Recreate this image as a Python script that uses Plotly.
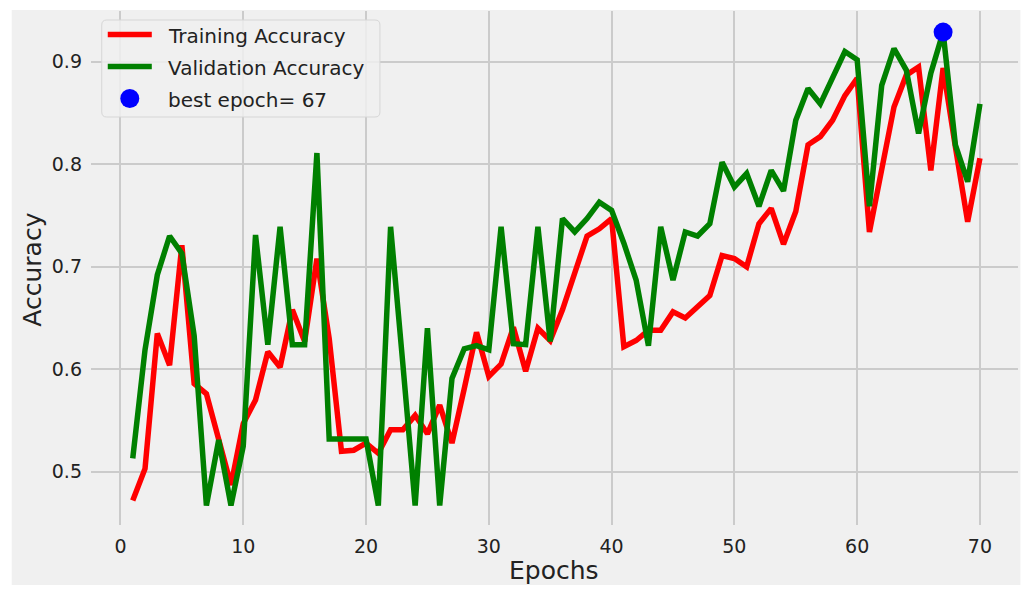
import plotly.graph_objects as go

# Per-epoch accuracy history
epochs = list(range(1, 71))
train_acc = [
    0.472, 0.503, 0.635, 0.604, 0.721, 0.586, 0.576, 0.533, 0.487, 0.547,
    0.570, 0.617, 0.602, 0.658, 0.627, 0.708, 0.630, 0.520, 0.521, 0.528,
    0.518, 0.541, 0.541, 0.555, 0.537, 0.565, 0.528, 0.581, 0.636, 0.593,
    0.605, 0.641, 0.598, 0.640, 0.628, 0.658, 0.693, 0.730, 0.737, 0.747,
    0.622, 0.628, 0.638, 0.638, 0.656, 0.650, 0.661, 0.672, 0.711, 0.708,
    0.700, 0.742, 0.757, 0.722, 0.754, 0.819, 0.827, 0.843, 0.867, 0.884,
    0.734, 0.798, 0.856, 0.887, 0.895, 0.794, 0.894, 0.817, 0.744, 0.806,
]
val_acc = [
    0.513, 0.619, 0.692, 0.730, 0.713, 0.633, 0.467, 0.531, 0.467, 0.525,
    0.731, 0.624, 0.739, 0.624, 0.624, 0.811, 0.532, 0.532, 0.532, 0.532,
    0.467, 0.739, 0.605, 0.467, 0.640, 0.467, 0.591, 0.620, 0.623, 0.619,
    0.739, 0.625, 0.624, 0.739, 0.627, 0.747, 0.734, 0.747, 0.763, 0.755,
    0.723, 0.687, 0.623, 0.739, 0.687, 0.734, 0.730, 0.742, 0.802, 0.778,
    0.791, 0.759, 0.794, 0.774, 0.843, 0.874, 0.859, 0.885, 0.910, 0.902,
    0.759, 0.877, 0.913, 0.892, 0.830, 0.889, 0.929, 0.819, 0.783, 0.859,
]
x_ticks = [0, 10, 20, 30, 40, 50, 60, 70]
y_ticks = [0.5, 0.6, 0.7, 0.8, 0.9]

best_idx = max(range(len(val_acc)), key=lambda i: val_acc[i])
best_epoch = epochs[best_idx]
best_val = val_acc[best_idx]

W, H = 1034, 590
ML, MR, MT, MB = 91.25, 16.4, 11, 65
PW, PH = W - ML - MR, H - MT - MB

BG = "#f0f0f0"
GRID = "#cbcbcb"
TXT = "#222222"
FONT = "DejaVu Sans"


def px(xp):
    return (xp - ML) / PW


def py(yp):
    return (H - MB - yp) / PH


fig = go.Figure()
fig.add_trace(go.Scatter(x=epochs, y=train_acc, mode="lines",
                         line=dict(color="#ff0000", width=5.5),
                         name="Training Accuracy", showlegend=False))
fig.add_trace(go.Scatter(x=epochs, y=val_acc, mode="lines",
                         line=dict(color="#008000", width=5.5),
                         name="Validation Accuracy", showlegend=False))
fig.add_trace(go.Scatter(x=[best_epoch], y=[best_val], mode="markers",
                         marker=dict(color="#0000ff", size=19, line=dict(width=0)),
                         name=f"best epoch= {best_epoch}", showlegend=False,
                         cliponaxis=False))

shapes = []
# figure face
shapes.append(dict(type="rect", xref="paper", yref="paper", layer="below",
                   x0=px(12), x1=px(1020), y0=py(585), y1=py(10),
                   fillcolor=BG, line=dict(width=0)))

# legend frame with rounded corners
lx0, lx1, ly0, ly1, r = 102, 380, 20, 117, 5
rx, ry = r / PW, r / PH
X0, X1, Y0, Y1 = px(lx0), px(lx1), py(ly1), py(ly0)
path = (f"M {X0 + rx},{Y0} L {X1 - rx},{Y0} Q {X1},{Y0} {X1},{Y0 + ry} "
        f"L {X1},{Y1 - ry} Q {X1},{Y1} {X1 - rx},{Y1} "
        f"L {X0 + rx},{Y1} Q {X0},{Y1} {X0},{Y1 - ry} "
        f"L {X0},{Y0 + ry} Q {X0},{Y0} {X0 + rx},{Y0} Z")
shapes.append(dict(type="path", path=path, xref="paper", yref="paper",
                   fillcolor="rgba(240,240,240,0.85)",
                   line=dict(color="#d6d6d6", width=1)))

legend_rows = [
    ("line", "#ff0000", "Training Accuracy", 34.5),
    ("line", "#008000", "Validation Accuracy", 66.5),
    ("dot", "#0000ff", f"best epoch= {best_epoch}", 98.5),
]
annotations = []
for kind, color, label, yc in legend_rows:
    if kind == "line":
        shapes.append(dict(type="line", xref="paper", yref="paper",
                           x0=px(108), x1=px(152), y0=py(yc), y1=py(yc),
                           line=dict(color=color, width=5.5)))
    else:
        shapes.append(dict(type="circle", xref="paper", yref="paper",
                           x0=px(120.5), x1=px(139.5), y0=py(yc + 9.5), y1=py(yc - 9.5),
                           fillcolor=color, line=dict(width=0)))
    annotations.append(dict(text=label, xref="paper", yref="paper",
                            x=px(166), y=py(yc + 1), xanchor="left", yanchor="middle",
                            showarrow=False, font=dict(family=FONT, size=20, color=TXT)))

annotations.append(dict(text="Epochs", xref="paper", yref="paper",
                        x=px(554), y=py(570), xanchor="center", yanchor="middle",
                        showarrow=False, font=dict(family=FONT, size=25, color=TXT)))
annotations.append(dict(text="Accuracy", xref="paper", yref="paper",
                        x=px(32), y=py(270), xanchor="center", yanchor="middle",
                        textangle=-90, showarrow=False,
                        font=dict(family=FONT, size=25, color=TXT)))

fig.update_layout(
    width=W, height=H,
    margin=dict(l=ML, r=MR, t=MT, b=MB, pad=0),
    paper_bgcolor="white", plot_bgcolor=BG,
    font=dict(family=FONT, size=19, color=TXT),
    shapes=shapes, annotations=annotations,
    showlegend=False,
)
fig.update_xaxes(range=[-2.4, 73.1], tickvals=x_ticks, ticks="",
                 showgrid=True, gridcolor=GRID, gridwidth=1.6,
                 zeroline=False, showline=False, ticklabelstandoff=8,
                 tickfont=dict(family=FONT, size=19, color=TXT))
fig.update_yaxes(range=[0.448, 0.9496], tickvals=y_ticks, ticktext=[f"{v:.1f}" for v in y_ticks],
                 ticks="", showgrid=True, gridcolor=GRID, gridwidth=1.6,
                 zeroline=False, showline=False, ticklabelstandoff=8,
                 tickfont=dict(family=FONT, size=19, color=TXT))

fig.write_html("out.html")
